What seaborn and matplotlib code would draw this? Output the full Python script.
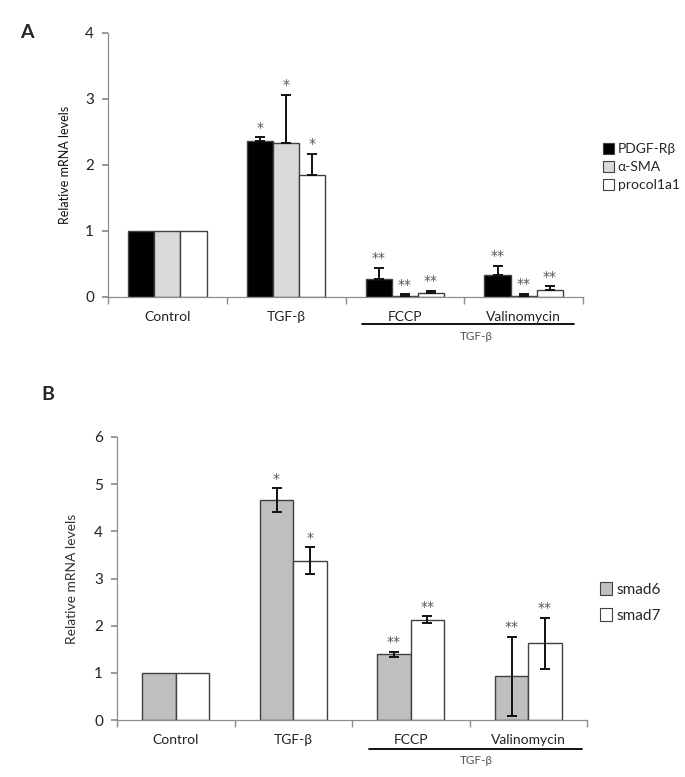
import numpy as np
import pandas as pd
import matplotlib
matplotlib.use("Agg")
import matplotlib.pyplot as plt
import seaborn as sns

# ---- Data panel A ----
cats_a = ["Control", "TGF-β", "FCCP", "Valinomycin"]
genes_a = ["PDGF-Rβ", "α-SMA", "procol1a1"]
pdgf = [1.00, 2.37, 0.28, 0.34]
asma = [1.00, 2.33, 0.02, 0.01]
procol = [1.00, 1.85, 0.06, 0.10]
pdgf_err = [0.0, 0.05, 0.16, 0.13]
asma_err = [0.0, 0.73, 0.02, 0.04]
procol_err = [0.0, 0.32, 0.03, 0.06]
stars_a = [["", "", ""], ["*", "*", "*"], ["**", "**", "**"], ["**", "**", "**"]]

# ---- Data panel B ----
cats_b = ["Control", "TGF-β", "FCCP", "Valinomycin"]
genes_b = ["smad6", "smad7"]
smad6 = [1.00, 4.66, 1.39, 0.93]
smad7 = [1.00, 3.38, 2.13, 1.63]
smad6_err = [0.0, 0.25, 0.06, 0.84]
smad7_err = [0.0, 0.29, 0.07, 0.54]
stars_b = [["", ""], ["*", "*"], ["**", "**"], ["**", "**"]]

sns.set_theme(style="white")
plt.rcParams['font.family'] = ['Lato', 'DejaVu Sans']

fig = plt.figure(figsize=(6.85, 7.77), dpi=100)
W, H = 685, 777

def ax_at(l, t, r, b):
    return fig.add_axes([l / W, 1 - b / H, (r - l) / W, (b - t) / H])

axA = ax_at(108, 33, 583, 297)
axB = ax_at(117, 437, 587, 720)

def make_df(cats, genes, vals):
    rows = []
    for g, v in zip(genes, vals):
        for c, x in zip(cats, v):
            rows.append({"cat": c, "gene": g, "val": x})
    return pd.DataFrame(rows)

def style_axes(ax, ymax, ystep, ncat):
    for s in ["top", "right"]:
        ax.spines[s].set_visible(False)
    for s in ["left", "bottom"]:
        ax.spines[s].set_color("#8c8c8c")
        ax.spines[s].set_linewidth(0.9)
    ax.set_ylim(0, ymax)
    ax.set_xlim(-0.5, ncat - 0.5)
    ax.set_yticks(np.arange(0, ymax + 0.01, ystep))
    ax.tick_params(axis="y", which="major", left=True, length=4, color="#8c8c8c",
                   labelsize=11, labelcolor="#222222", pad=6)
    ax.tick_params(axis="x", which="major", bottom=False, length=0, labelsize=10,
                   labelcolor="#222222", pad=10)
    ax.set_xticks(np.arange(-0.5, ncat, 1.0), minor=True)
    ax.tick_params(axis="x", which="minor", bottom=True, length=5, color="#8c8c8c")
    ax.set_xlabel("")

def add_err(ax, vals_list, errs_list, stars, both, star_off):
    ngenes = len(vals_list)
    bars = ax.patches[:ngenes * len(vals_list[0])]
    for gi in range(ngenes):
        for ci in range(len(vals_list[0])):
            p = bars[gi * len(vals_list[0]) + ci]
            xc = p.get_x() + p.get_width() / 2
            v = vals_list[gi][ci]
            e = errs_list[gi][ci]
            if e > 0:
                yerr = [[e if both else 0], [e]]
                ax.errorbar(xc, v, yerr=yerr, fmt="none", ecolor="#111111",
                            elinewidth=1.4, capsize=3.5, capthick=1.4, zorder=5)
            s = stars[ci][gi]
            if s:
                ax.text(xc, v + e + star_off, s, ha="center", va="bottom",
                        fontsize=10, color="#555555", family=["DejaVu Sans"])

# ---- Panel A ----
dfA = make_df(cats_a, genes_a, [pdgf, asma, procol])
sns.barplot(data=dfA, x="cat", y="val", hue="gene", ax=axA, errorbar=None,
            palette=["#000000", "#d9d9d9", "#ffffff"], width=0.66,
            edgecolor="#404040", linewidth=1.0, legend=False)
style_axes(axA, 4, 1, 4)
axA.set_ylabel("Relative mRNA levels", fontsize=9, color="#111111", labelpad=10)
add_err(axA, [pdgf, asma, procol], [pdgf_err, asma_err, procol_err], stars_a, False, 0.04)

# ---- Panel B ----
dfB = make_df(cats_b, genes_b, [smad6, smad7])
sns.barplot(data=dfB, x="cat", y="val", hue="gene", ax=axB, errorbar=None,
            palette=["#bfbfbf", "#ffffff"], width=0.57,
            edgecolor="#404040", linewidth=1.0, legend=False)
style_axes(axB, 6, 1, 4)
axB.set_ylabel("Relative mRNA levels", fontsize=10, color="#333333", labelpad=12)
add_err(axB, [smad6, smad7], [smad6_err, smad7_err], stars_b, True, 0.05)

# ---- Legends ----
from matplotlib.patches import Patch
hA = [Patch(facecolor=c, edgecolor="#404040", linewidth=0.8) for c in ["#000000", "#d9d9d9", "#ffffff"]]
fig.legend(hA, genes_a, loc="upper left", bbox_to_anchor=(603 / W, 1 - 143 / H),
           frameon=False, fontsize=10, handlelength=0.8, handleheight=0.8,
           handletextpad=0.25, labelspacing=0.42, borderpad=0, borderaxespad=0)
hB = [Patch(facecolor=c, edgecolor="#404040", linewidth=0.8) for c in ["#bfbfbf", "#ffffff"]]
fig.legend(hB, genes_b, loc="upper left", bbox_to_anchor=(600 / W, 1 - 582 / H),
           frameon=False, fontsize=11, handlelength=0.8, handleheight=0.9,
           handletextpad=0.3, labelspacing=0.75, borderpad=0, borderaxespad=0)

# ---- Group lines ----
fig.add_artist(plt.Line2D([362 / W, 574 / W], [1 - 324 / H, 1 - 324 / H], color="black", lw=1.3))
fig.text(476 / W, 1 - 336 / H, "TGF-β", ha="center", va="center", fontsize=8.5, color="#555555")
fig.add_artist(plt.Line2D([369 / W, 582 / W], [1 - 749 / H, 1 - 749 / H], color="black", lw=1.3))
fig.text(476 / W, 1 - 760 / H, "TGF-β", ha="center", va="center", fontsize=8.5, color="#555555")

# ---- Panel labels ----
fig.text(27 / W, 1 - 32 / H, "A", ha="center", va="center", fontsize=14, fontweight="bold")
fig.text(48 / W, 1 - 394 / H, "B", ha="center", va="center", fontsize=14, fontweight="bold")

fig.savefig("out.png", dpi=100, facecolor="white")
